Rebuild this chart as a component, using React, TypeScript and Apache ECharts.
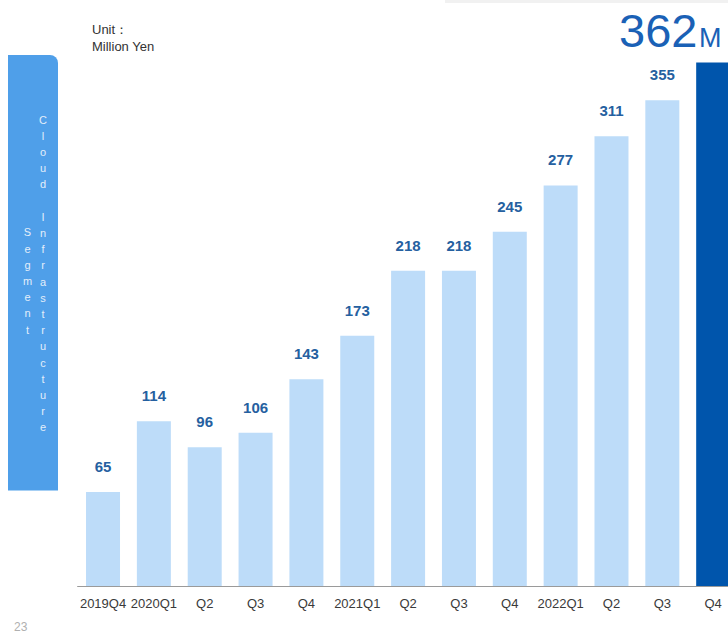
import React, { useEffect, useRef } from "react";
import * as echarts from "echarts";

const categories = ["2019Q4", "2020Q1", "Q2", "Q3", "Q4", "2021Q1", "Q2", "Q3", "Q4", "2022Q1", "Q2", "Q3", "Q4"];
// bar heights as drawn in the picture (Million Yen)
const barValues = [65, 114, 96, 106, 143, 173, 218, 218, 245, 277, 311, 336, 362];
// value labels printed above the bars
const labelValues = ["65", "114", "96", "106", "143", "173", "218", "218", "245", "277", "311", "355", ""];
const highlightIndex = 12;
const highlightText = "362";
const highlightUnit = "M";
const unitLines = ["Unit：", "Million Yen"];
const sideLine1 = "Cloud Infrastructure";
const sideLine2 = "Segment";
const pageNumber = "23";

const FONT = "'Liberation Sans', Arial, sans-serif";

export default function App() {
  const ref = useRef<HTMLDivElement>(null);
  useEffect(() => {
    if (!ref.current) return;
    const chart = echarts.init(ref.current, null, { renderer: "svg" });
    const vert = (s: string) => s.split("").join("\n");
    chart.setOption({
      animation: false,
      backgroundColor: "#ffffff",
      grid: { left: 77.6, top: 7.6, width: 661, height: 578.4, containLabel: false },
      xAxis: {
        type: "category",
        data: categories,
        axisLine: { lineStyle: { color: "#9a9a9a", width: 1 } },
        axisTick: { show: false },
        axisLabel: { color: "#3a3a3a", fontSize: 13, fontFamily: FONT, margin: 11, interval: 0 },
      },
      yAxis: {
        type: "value",
        min: 0,
        max: 400,
        show: false,
        splitLine: { show: false },
      },
      series: [
        {
          type: "bar",
          barWidth: 34,
          data: barValues.map((v, i) => ({
            value: v,
            itemStyle: { color: i === highlightIndex ? "#0055ac" : "#bddcf9" },
          })),
          label: {
            show: true,
            position: "top",
            distance: 18,
            formatter: (p: any) => labelValues[p.dataIndex],
            color: "#2560a0",
            fontSize: 15,
            fontWeight: "bold",
            fontFamily: FONT,
          },
        },
      ],
      graphic: [
        { type: "rect", shape: { x: 445, y: 0, width: 283, height: 3 }, style: { fill: "#f1f1f1" } },
        {
          type: "rect",
          shape: { x: 8, y: 55, width: 50, height: 435.5, r: [0, 8, 0, 0] },
          style: { fill: "#4f9fe9" },
        },
        {
          type: "text",
          x: 43,
          y: 273.5,
          style: {
            text: vert(sideLine1),
            fill: "#e3eefa",
            fontSize: 11,
            lineHeight: 16.2,
            fontFamily: FONT,
            align: "center",
            verticalAlign: "middle",
          },
        },
        {
          type: "text",
          x: 27.5,
          y: 281,
          style: {
            text: vert(sideLine2),
            fill: "#e3eefa",
            fontSize: 11,
            lineHeight: 16.2,
            fontFamily: FONT,
            align: "center",
            verticalAlign: "middle",
          },
        },
        {
          type: "text",
          x: 92,
          y: 21,
          style: {
            text: unitLines.join("\n"),
            fill: "#333333",
            fontSize: 13,
            lineHeight: 17,
            fontFamily: FONT,
            align: "left",
            verticalAlign: "top",
          },
        },
        {
          type: "text",
          x: 619,
          y: 30,
          style: {
            text: highlightText,
            fill: "#1a61b6",
            fontSize: 47,
            fontFamily: FONT,
            align: "left",
            verticalAlign: "middle",
          },
        },
        {
          type: "text",
          x: 699,
          y: 37.5,
          style: {
            text: highlightUnit,
            fill: "#1a61b6",
            fontSize: 27,
            fontFamily: FONT,
            align: "left",
            verticalAlign: "middle",
          },
        },
        {
          type: "text",
          x: 14,
          y: 627,
          style: {
            text: pageNumber,
            fill: "#b0b0b0",
            fontSize: 12,
            fontFamily: FONT,
            align: "left",
            verticalAlign: "middle",
          },
        },
      ],
    });
    return () => chart.dispose();
  }, []);
  return (
    <div style={{ position: "absolute", left: 0, top: 0, width: 728, height: 633, overflow: "hidden" }}>
      <div ref={ref} style={{ position: "absolute", left: 0, top: 0, width: 760, height: 633 }} />
    </div>
  );
}
